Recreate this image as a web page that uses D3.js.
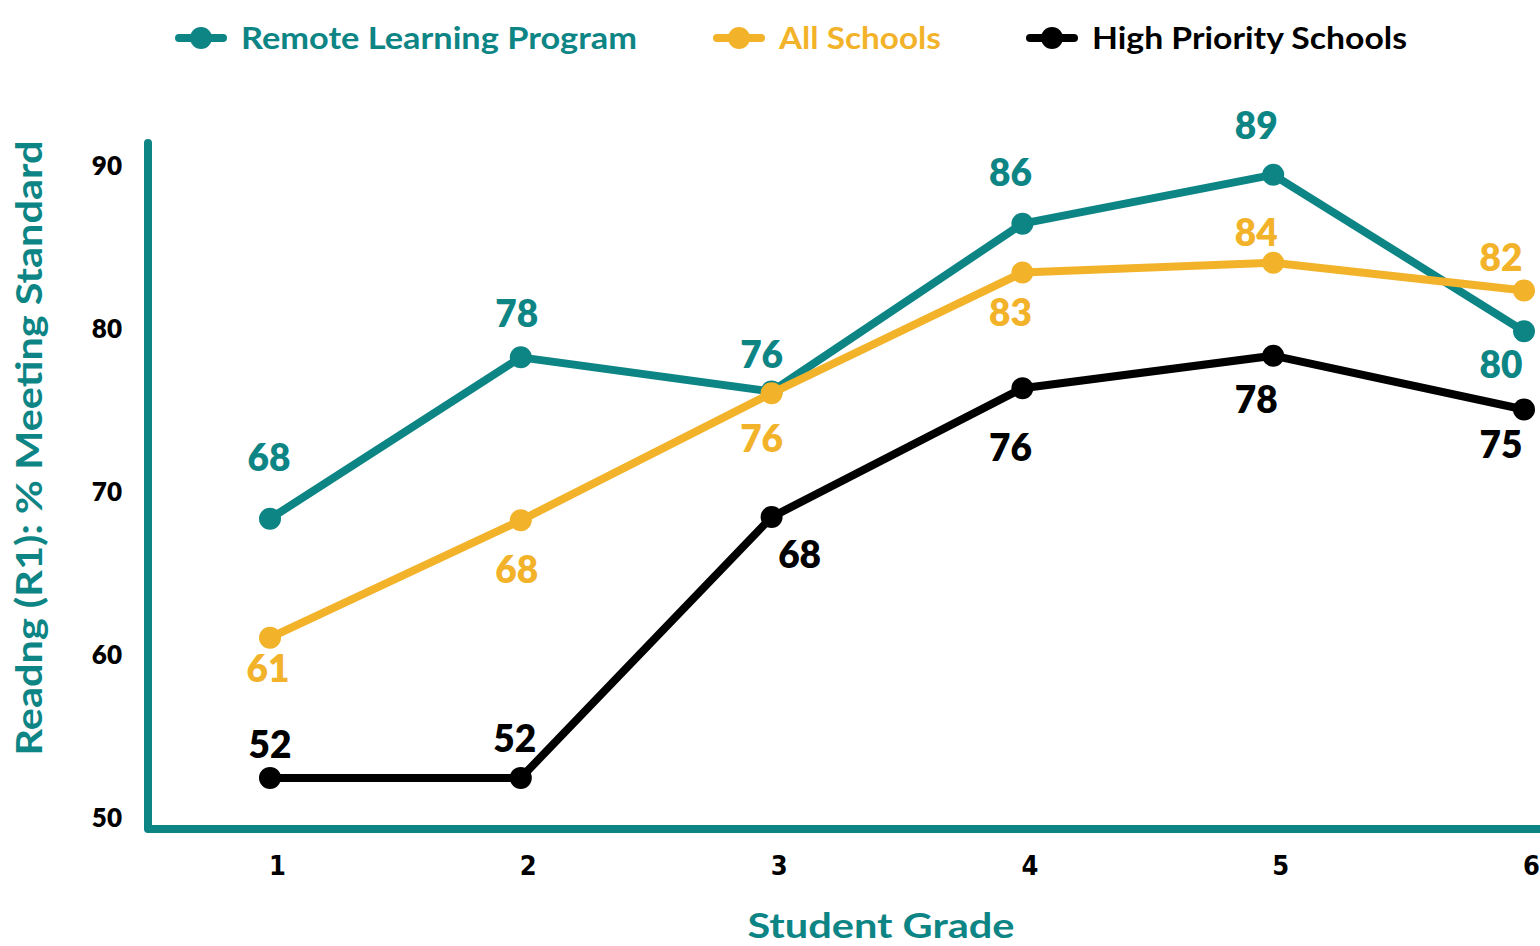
<!DOCTYPE html>
<html>
<head>
<meta charset="utf-8">
<script src="https://cdn.jsdelivr.net/npm/d3@7"></script>
<style>
  html, body { margin: 0; padding: 0; background: #fff; }
  svg { display: block; font-family: Lato, "Noto Sans", sans-serif; }
</style>
</head>
<body>
<svg id="chart" width="1540" height="946"></svg>
<script>
// data
const grades = [1, 2, 3, 4, 5, 6];
const remoteLearning = [68.3, 78.2, 76.1, 86.4, 89.4, 79.8];
const allSchools = [61.0, 68.2, 76.0, 83.4, 84.0, 82.3];
const highPriority = [52.4, 52.4, 68.4, 76.3, 78.3, 75.0];
const yTicks = [50, 60, 70, 80, 90];

// label placement (dx, dy from the point)
const remoteOffsets = [[-1, -61], [-4, -44], [-10, -37], [-12, -51], [-17, -49], [-23, 33]];
const allOffsets = [[-2, 31], [-4, 49], [-10, 45], [-12, 40], [-17, -30], [-23, -33]];
const highOffsets = [[0, -33], [-6, -39], [28, 38], [-12, 59], [-17, 44], [-23, 35]];

const colours = {
    remote: "#0e8585",
    all: "#f2b32a",
    high: "#000000"
};

const series = [
    { name: "Remote Learning Program", key: "remote", values: remoteLearning, offsets: remoteOffsets, width: 396 },
    { name: "All Schools", key: "all", values: allSchools, offsets: allOffsets, width: 162 },
    { name: "High Priority Schools", key: "high", values: highPriority, offsets: highOffsets, width: 315 }
];

const svg = d3.select("#chart");

const x = d3.scaleLinear().domain([1, 6]).range([270, 1524]);
const y = d3.scaleLinear().domain([50, 90]).range([817, 165]);

//////////// AXES ////////////

// y tick labels
svg.append("g")
    .attr("transform", "translate(122,0)")
    .call(d3.axisLeft(y).tickValues(yTicks).tickFormat(d3.format("d")).tickSize(0).tickPadding(0))
    .call(g => g.select(".domain").remove())
    .call(g => g.selectAll("text")
        .attr("font-family", "Lato, sans-serif")
        .attr("font-weight", 800)
        .attr("font-size", 26)
        .attr("fill", "#000")
        .attr("dy", "0.36em"));

// x tick labels
svg.append("g")
    .attr("transform", "translate(7,856)")
    .call(d3.axisBottom(x).tickValues(grades).tickFormat(d3.format("d")).tickSize(0).tickPadding(0))
    .call(g => g.select(".domain").remove())
    .call(g => g.selectAll("text")
        .attr("font-family", "'DejaVu Sans Condensed', 'DejaVu Sans', sans-serif")
        .attr("font-weight", 700)
        .attr("font-size", 27)
        .attr("fill", "#000")
        .attr("dy", "0.72em"));

// axis lines
svg.append("path")
    .attr("d", "M148,143 L148,829 L1545,829")
    .attr("fill", "none")
    .attr("stroke", colours.remote)
    .attr("stroke-width", 8)
    .attr("stroke-linecap", "round")
    .attr("stroke-linejoin", "round");

// axis titles
svg.append("text")
    .attr("transform", "translate(42,448) rotate(-90)")
    .attr("text-anchor", "middle")
    .attr("font-weight", 700)
    .attr("font-size", 36)
    .attr("textLength", 615)
    .attr("lengthAdjust", "spacingAndGlyphs")
    .attr("fill", colours.remote)
    .text("Readng (R1): % Meeting Standard");

svg.append("text")
    .attr("x", 881)
    .attr("y", 938)
    .attr("text-anchor", "middle")
    .attr("font-weight", 700)
    .attr("font-size", 35)
    .attr("textLength", 267)
    .attr("lengthAdjust", "spacingAndGlyphs")
    .attr("fill", colours.remote)
    .text("Student Grade");

//////////// LINES ////////////

const line = d3.line()
    .x((d, i) => x(grades[i]))
    .y(d => y(d));

const seriesG = svg.append("g").attr("class", "series")
    .selectAll("g")
    .data(series)
    .enter().append("g");

seriesG.append("path")
    .attr("d", d => line(d.values))
    .attr("fill", "none")
    .attr("stroke", d => colours[d.key])
    .attr("stroke-width", 8)
    .attr("stroke-linejoin", "round");

seriesG.selectAll("circle")
    .data(d => d.values.map((v, i) => ({ v, i, key: d.key })))
    .enter().append("circle")
    .attr("cx", d => x(grades[d.i]))
    .attr("cy", d => y(d.v))
    .attr("r", 11)
    .attr("fill", d => colours[d.key]);

seriesG.selectAll("text")
    .data(d => d.values.map((v, i) => ({ v, i, key: d.key, off: d.offsets[i] })))
    .enter().append("text")
    .attr("x", d => x(grades[d.i]) + d.off[0])
    .attr("y", d => y(d.v) + d.off[1])
    .attr("dy", "0.36em")
    .attr("text-anchor", "middle")
    .attr("font-weight", 800)
    .attr("font-size", 37)
    .attr("fill", d => colours[d.key])
    .text(d => Math.round(d.v));

//////////// LEGEND ////////////

const legendX = [175, 713, 1026];

const legend = svg.append("g").attr("class", "legend")
    .selectAll("g")
    .data(series)
    .enter().append("g")
    .attr("transform", (d, i) => `translate(${legendX[i]},38)`);

legend.append("line")
    .attr("x1", 4).attr("x2", 48)
    .attr("stroke", d => colours[d.key])
    .attr("stroke-width", 8)
    .attr("stroke-linecap", "round");

legend.append("circle")
    .attr("cx", 26)
    .attr("r", 11)
    .attr("fill", d => colours[d.key]);

legend.append("text")
    .attr("x", 66)
    .attr("dy", "0.36em")
    .attr("font-weight", 700)
    .attr("font-size", 31)
    .attr("textLength", d => d.width)
    .attr("lengthAdjust", "spacingAndGlyphs")
    .attr("fill", d => colours[d.key])
    .text(d => d.name);
</script>
</body>
</html>
